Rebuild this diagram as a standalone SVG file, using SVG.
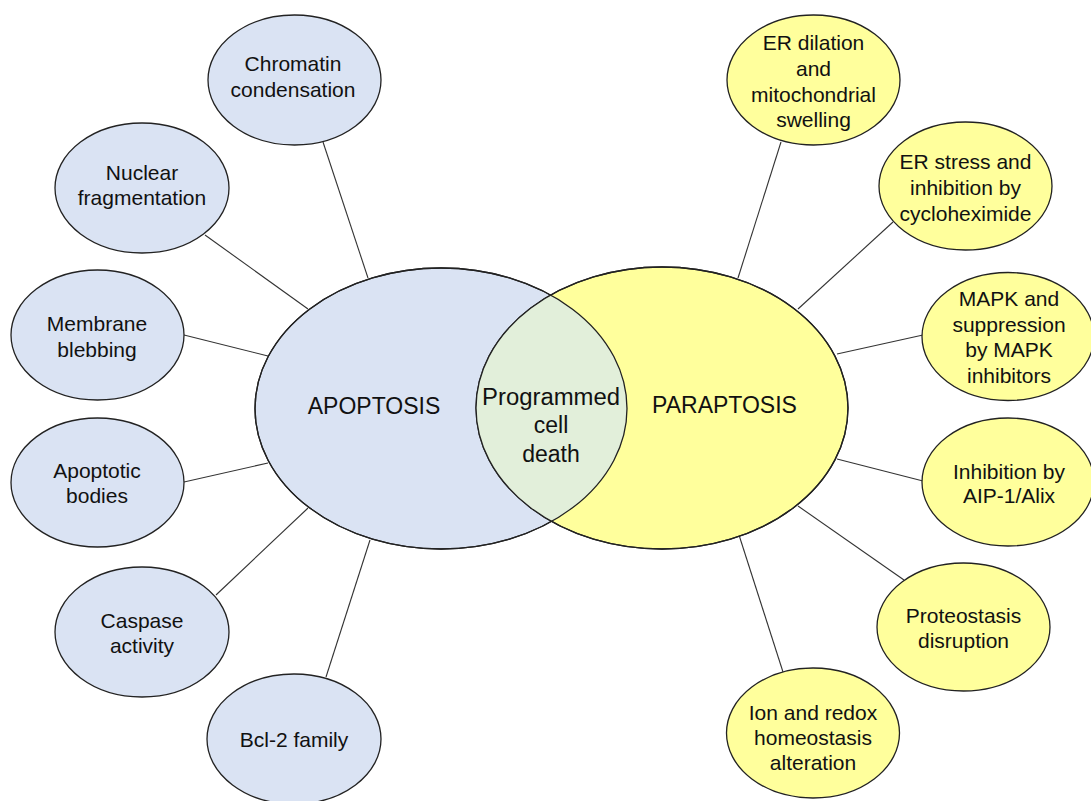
<svg xmlns="http://www.w3.org/2000/svg" width="1091" height="801" viewBox="0 0 1091 801">
<style>
.bg{fill:#ffffff}
.apo{fill:#dae3f3;stroke:#222;stroke-width:1.3}
.para{fill:#ffff9c;stroke:#222;stroke-width:1.3}
.outline{fill:none;stroke:#222;stroke-width:1.3}
.lens{fill:#e2efda;stroke:none}
.conn line{stroke:#333;stroke-width:1.1}
text{font-family:"Liberation Sans",Arial,sans-serif;fill:#111;text-anchor:middle}
.s{font-size:21px}
.b{font-size:23px}
</style>
<defs>
<clipPath id="clipApo"><ellipse cx="441" cy="408.5" rx="186" ry="140.5"/></clipPath>
</defs>
<rect class="bg" x="0" y="0" width="1091" height="801"/>
<g id="connectors" class="conn">
<line x1="323" y1="142" x2="368" y2="278"/>
<line x1="205" y1="235" x2="308" y2="309"/>
<line x1="184" y1="335" x2="268" y2="356"/>
<line x1="184" y1="482" x2="268" y2="463"/>
<line x1="216" y1="595" x2="308" y2="508"/>
<line x1="326" y1="677" x2="370" y2="540"/>
<line x1="781" y1="142" x2="738" y2="278"/>
<line x1="893" y1="222" x2="798" y2="309"/>
<line x1="923" y1="335" x2="837" y2="354"/>
<line x1="923" y1="481" x2="837" y2="459"/>
<line x1="904" y1="580" x2="798" y2="506"/>
<line x1="783" y1="672" x2="739" y2="535"/>
</g>
<g id="apoptosis">
<ellipse class="apo" cx="441" cy="408.5" rx="186" ry="140.5"/>
</g>
<g id="paraptosis">
<ellipse class="para" cx="662" cy="408" rx="186" ry="141"/>
</g>
<g id="programmed-cell-death">
<ellipse class="lens" cx="662" cy="408" rx="186" ry="141" clip-path="url(#clipApo)"/>
<ellipse class="outline" cx="441" cy="408.5" rx="186" ry="140.5"/>
<ellipse class="outline" cx="662" cy="408" rx="186" ry="141"/>
<text class="b"><tspan x="551" y="405" textLength="138" lengthAdjust="spacingAndGlyphs">Programmed</tspan><tspan x="551" y="433">cell</tspan><tspan x="551" y="462">death</tspan></text>
</g>
<g id="apoptosis-label"><text class="b" x="374" y="414">APOPTOSIS</text></g>
<g id="paraptosis-label"><text class="b" x="724.5" y="413">PARAPTOSIS</text></g>
<g id="chromatin">
<ellipse class="apo" cx="294.5" cy="80" rx="86.5" ry="65"/>
<text class="s"><tspan x="293" y="71">Chromatin</tspan><tspan x="293" y="97">condensation</tspan></text>
</g>
<g id="nuclear">
<ellipse class="apo" cx="142" cy="188" rx="87" ry="65"/>
<text class="s"><tspan x="142" y="180">Nuclear</tspan><tspan x="142" y="205">fragmentation</tspan></text>
</g>
<g id="membrane">
<ellipse class="apo" cx="97.5" cy="335" rx="86.5" ry="65"/>
<text class="s"><tspan x="97" y="331">Membrane</tspan><tspan x="97" y="357">blebbing</tspan></text>
</g>
<g id="apoptotic-bodies">
<ellipse class="apo" cx="97.5" cy="482.5" rx="86.5" ry="64.5"/>
<text class="s"><tspan x="97" y="478">Apoptotic</tspan><tspan x="97" y="503">bodies</tspan></text>
</g>
<g id="caspase">
<ellipse class="apo" cx="142" cy="632" rx="87" ry="65"/>
<text class="s"><tspan x="142" y="628">Caspase</tspan><tspan x="142" y="653">activity</tspan></text>
</g>
<g id="bcl2">
<ellipse class="apo" cx="294" cy="739" rx="87" ry="65"/>
<text class="s" x="294" y="747">Bcl-2 family</text>
</g>
<g id="er-dilation">
<ellipse class="para" cx="813.5" cy="80" rx="86.5" ry="65"/>
<text class="s"><tspan x="813.5" y="50">ER dilation</tspan><tspan x="813.5" y="76">and</tspan><tspan x="813.5" y="102">mitochondrial</tspan><tspan x="813.5" y="127">swelling</tspan></text>
</g>
<g id="er-stress">
<ellipse class="para" cx="965.5" cy="186" rx="86.5" ry="64"/>
<text class="s"><tspan x="965.5" y="169">ER stress and</tspan><tspan x="965.5" y="195">inhibition by</tspan><tspan x="965.5" y="221">cycloheximide</tspan></text>
</g>
<g id="mapk">
<ellipse class="para" cx="1008" cy="336.5" rx="86" ry="64"/>
<text class="s"><tspan x="1009" y="306">MAPK and</tspan><tspan x="1009" y="332">suppression</tspan><tspan x="1009" y="357">by MAPK</tspan><tspan x="1009" y="383">inhibitors</tspan></text>
</g>
<g id="alix">
<ellipse class="para" cx="1008" cy="482" rx="86" ry="64"/>
<text class="s"><tspan x="1009" y="479">Inhibition by</tspan><tspan x="1009" y="503">AIP-1/Alix</tspan></text>
</g>
<g id="proteostasis">
<ellipse class="para" cx="963.5" cy="627" rx="86.5" ry="64"/>
<text class="s"><tspan x="963.5" y="623">Proteostasis</tspan><tspan x="963.5" y="648">disruption</tspan></text>
</g>
<g id="ion-redox">
<ellipse class="para" cx="813" cy="733" rx="86.5" ry="65"/>
<text class="s"><tspan x="813" y="720">Ion and redox</tspan><tspan x="813" y="745">homeostasis</tspan><tspan x="813" y="770">alteration</tspan></text>
</g>
</svg>
